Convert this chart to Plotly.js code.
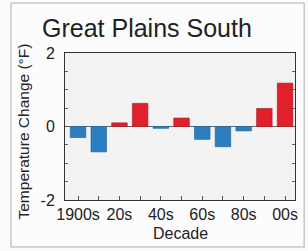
<!DOCTYPE html>
<html><head><meta charset="utf-8">
<script src="https://cdn.plot.ly/plotly-3.0.1.min.js"></script>
<style>html,body{margin:0;padding:0;background:#fff;}#c{width:308px;height:251px;}</style>
</head><body><div id="c"></div>
<script>
const decades = ['1900s','1910s','1920s','1930s','1940s','1950s','1960s','1970s','1980s','1990s','2000s'];
const anomalies = [-0.30, -0.69, 0.10, 0.63, -0.05, 0.23, -0.35, -0.55, -0.12, 0.49, 1.18];
const tickLabels = ['1900s','','20s','','40s','','60s','','80s','','00s'];
const warm = '#e0202a', cool = '#2b7fc1';
const colors = anomalies.map(v => v >= 0 ? warm : cool);
const lines = anomalies.map(v => v >= 0 ? '#a8141c' : '#1d5f94');
const font = 'Liberation Sans, Arial, sans-serif';
Plotly.newPlot('c', [{
  type: 'bar', x: decades, y: anomalies, width: 0.75,
  marker: {color: colors, line: {color: lines, width: 0.6}},
  hoverinfo: 'skip'
}], {
  width: 308, height: 251,
  margin: {l: 65, r: 13, t: 53, b: 51},
  paper_bgcolor: '#fcfcfc', plot_bgcolor: '#f3f3f3',
  showlegend: false,
  font: {family: font, color: '#222'},
  xaxis: {type: 'category', range: [-0.63, 10.48], tickvals: decades, ticktext: tickLabels,
    ticks: 'inside', ticklen: 4, tickcolor: '#555', showline: true, linecolor: '#333', linewidth: 1,
    mirror: true, showgrid: false, zeroline: false, tickfont: {size: 16, color: '#222'}, fixedrange: true},
  yaxis: {range: [-2, 2], tickvals: [-2, 0, 2], ticktext: ['-2', '0', '2'], ticks: 'inside', ticklen: 4,
    tickcolor: '#555', showline: true, linecolor: '#333', linewidth: 1, mirror: 'allticks',
    ticklabelstandoff: 6,
    minor: {dtick: 0.5, ticks: 'inside', ticklen: 3, tickcolor: '#666'},
    showgrid: false, zeroline: true, zerolinecolor: '#666', zerolinewidth: 1,
    tickfont: {size: 16, color: '#222'}, fixedrange: true},
  annotations: [
    {text: 'Great Plains South', xref: 'paper', yref: 'paper', x: -0.11, y: 1.0, yshift: 25,
     xanchor: 'left', yanchor: 'middle', showarrow: false, font: {size: 25, color: '#222'}},
    {text: 'Temperature Change (°F)', xref: 'paper', yref: 'paper', x: 0, xshift: -42, y: 0.466,
     xanchor: 'center', yanchor: 'middle', textangle: -90, showarrow: false, font: {size: 15.5, color: '#222'}},
    {text: 'Decade', xref: 'paper', yref: 'paper', x: 0.5, y: 0, yshift: -33,
     xanchor: 'center', yanchor: 'middle', showarrow: false, font: {size: 16, color: '#222'}}
  ],
  shapes: [
    {type: 'rect', xref: 'paper', yref: 'paper', x0: -0.235, x1: 1.04, y0: -0.32, y1: 1.34,
     line: {color: '#c8c8c8', width: 1.5}, layer: 'below'}
  ]
}, {displayModeBar: false, staticPlot: true});
</script></body></html>
